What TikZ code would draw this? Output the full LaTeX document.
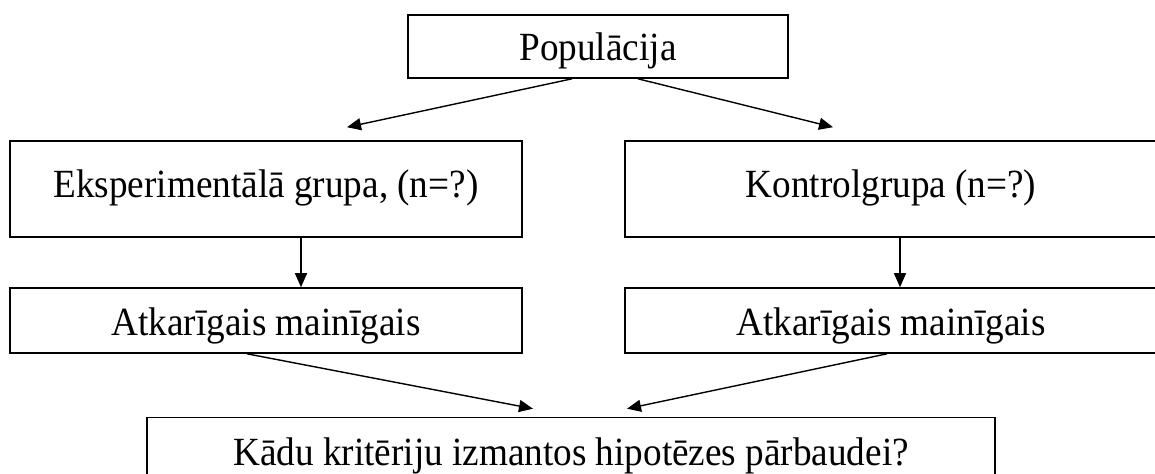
\documentclass[tikz,border=0pt]{standalone}
\usepackage{fontspec}
\usepackage{graphicx}
\setmainfont{Liberation Serif}
\usetikzlibrary{arrows.meta}

\newcommand{\txt}[1]{\scalebox{0.93}[1]{#1}}

\tikzset{
  box/.style={draw=black,line width=0.8pt,inner sep=0pt,font=\fontsize{20}{24}\selectfont},
  lbl/.style={font=\fontsize{20}{24}\selectfont,anchor=north,yshift=-11pt},
  flow/.style={line width=0.7pt,-{Triangle[length=7pt,width=6pt]}}
}

\begin{document}
\begin{tikzpicture}[x=0.5pt,y=-0.5pt]
\useasboundingbox (0,0) rectangle (1155,473);
\node[box,minimum width=190pt,minimum height=31.5pt] (pop) at (598,46.5) {};
\node[box,minimum width=256pt,minimum height=48pt,label={[lbl]north:\txt{Eksperimentālā grupa, (n=?)}}] (expgrp) at (266,189) {};
\node[box,minimum width=270pt,minimum height=48pt,label={[lbl,xshift=-2pt]north:\txt{Kontrolgrupa (n=?)}}] (ctrlgrp) at (895,189) {};
\node[box,minimum width=256pt,minimum height=32.5pt] (dep1) at (266,320.5) {};
\node[box,minimum width=270pt,minimum height=32.5pt] (dep2) at (895,320.5) {};
\node[box,minimum width=424pt,minimum height=36pt] (crit) at (571,453.5) {};
\node[font=\fontsize{20}{24}\selectfont,yshift=-2pt] at (pop) {\txt{Populācija}};
\node[font=\fontsize{20}{24}\selectfont,yshift=-2.5pt] at (dep1) {\txt{Atkarīgais mainīgais}};
\node[font=\fontsize{20}{24}\selectfont,yshift=-2.5pt,xshift=-2pt] at (dep2) {\txt{Atkarīgais mainīgais}};
\node[font=\fontsize{20}{24}\selectfont,yshift=-1pt] at (crit) {\txt{Kādu kritēriju izmantos hipotēzes pārbaudei?}};
\draw[flow] ([xshift=-13pt]pop.south) -- ([xshift=40.5pt,yshift=6.5pt]expgrp.north);
\draw[flow] ([xshift=20pt]pop.south) -- ([xshift=-31pt,yshift=6.5pt]ctrlgrp.north);
\draw[flow] ([xshift=17.5pt]expgrp.south) -- ([xshift=17.5pt]dep1.north);
\draw[flow] ([xshift=2.5pt]ctrlgrp.south) -- ([xshift=2.5pt]dep2.north);
\draw[flow] ([xshift=-9.5pt]dep1.south) -- ([xshift=-19pt,yshift=4pt]crit.north);
\draw[flow] ([xshift=-4pt]dep2.south) -- ([xshift=28pt,yshift=4pt]crit.north);
\end{tikzpicture}
\end{document}
